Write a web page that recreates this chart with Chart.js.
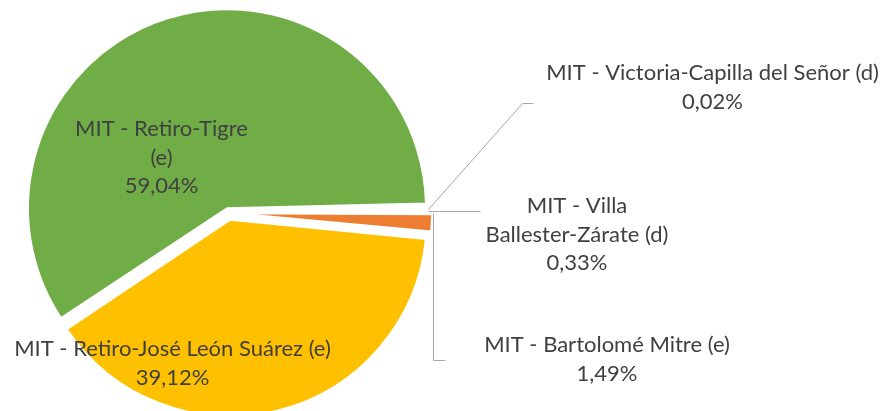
<!DOCTYPE html>
<html><head><meta charset="utf-8">
<script src="https://cdn.jsdelivr.net/npm/chart.js@4"></script>
<style>html,body{margin:0;padding:0;background:#fff}#wrap{width:884px;height:411px;position:relative}</style>
</head><body><div id="wrap"><canvas id="c"></canvas></div>
<script>
// ---- data ----
const categories = [
  'MIT - Retiro-Tigre (e)',
  'MIT - Victoria-Capilla del Señor (d)',
  'MIT - Villa Ballester-Zárate (d)',
  'MIT - Bartolomé Mitre (e)',
  'MIT - Retiro-José León Suárez (e)'
];
const shares = [59.04, 0.02, 0.33, 1.49, 39.12];
const sliceColors = ['#70AD47', '#FFFFFF', '#FFFFFF', '#ED7D31', '#FFC000'];
const sliceOffsets = [20, 0, 0, 20, 28];

// ---- label layout (styling only) ----
const FONT = '22px Lato';
const LINE_H = 28.5;
const TEXT_COLOR = '#404040';
const LEADER_COLOR = '#A6A6A6';
const labelLayout = [
  {lines: ['MIT - Retiro-Tigre', '(e)'], cx: 161.5, y0: 136, leader: null},
  {lines: ['MIT - Victoria-Capilla del Señor (d)'], cx: 712.5, y0: 80, at: 0.5,
    leader: a => [[a.x, a.y], [522, 103], [533, 103]]},
  {lines: ['MIT - Villa', 'Ballester-Zárate (d)'], cx: 577, y0: 213, at: 0.5,
    leader: a => [[a.x, a.y], [480, a.y]]},
  {lines: ['MIT - Bartolomé Mitre (e)'], cx: 607, y0: 352, at: 0,
    leader: a => [[a.x, a.y], [a.x, 360], [445, 360]]},
  {lines: ['MIT - Retiro-José León Suárez (e)'], cx: 172.5, y0: 356, leader: null}
];

const fmtPct = v => v.toFixed(2).replace('.', ',') + '%';

const labelPlugin = {
  id: 'pieLabels',
  afterDatasetsDraw(chart) {
    const ctx = chart.ctx;
    const meta = chart.getDatasetMeta(0);
    ctx.save();
    meta.data.forEach((arc, i) => {
      const L = labelLayout[i];
      if (L.leader) {
        const ang = arc.startAngle + (arc.endAngle - arc.startAngle) * L.at;
        const r = arc.outerRadius + (arc.options.offset || 0) / 4 + 6;
        const anchor = {x: arc.x + Math.cos(ang) * r, y: arc.y + Math.sin(ang) * r};
        const pts = L.leader(anchor);
        ctx.beginPath();
        ctx.strokeStyle = LEADER_COLOR;
        ctx.lineWidth = 1;
        pts.forEach((p, k) => {
          const px = Math.round(p[0]) + 0.5, py = Math.round(p[1]) + 0.5;
          k ? ctx.lineTo(px, py) : ctx.moveTo(px, py);
        });
        ctx.stroke();
      }
      ctx.font = FONT;
      ctx.fillStyle = TEXT_COLOR;
      ctx.textAlign = 'center';
      ctx.textBaseline = 'alphabetic';
      const lines = L.lines.concat([fmtPct(shares[i])]);
      lines.forEach((t, k) => ctx.fillText(t, L.cx, L.y0 + k * LINE_H));
    });
    ctx.restore();
  }
};

new Chart(document.getElementById('c'), {
  type: 'pie',
  data: {
    labels: categories,
    datasets: [{
      data: shares,
      backgroundColor: sliceColors,
      borderColor: '#FFFFFF',
      borderWidth: 2,
      offset: sliceOffsets,
      radius: 194,
      clip: false
    }]
  },
  options: {
    responsive: true,
    maintainAspectRatio: false,
    animation: false,
    events: [],
    rotation: -123.7,
    layout: {padding: {left: 0, right: 427, top: 15, bottom: 0}},
    plugins: {legend: {display: false}, tooltip: {enabled: false}, title: {display: false}}
  },
  plugins: [labelPlugin]
});
</script>
</body></html>
